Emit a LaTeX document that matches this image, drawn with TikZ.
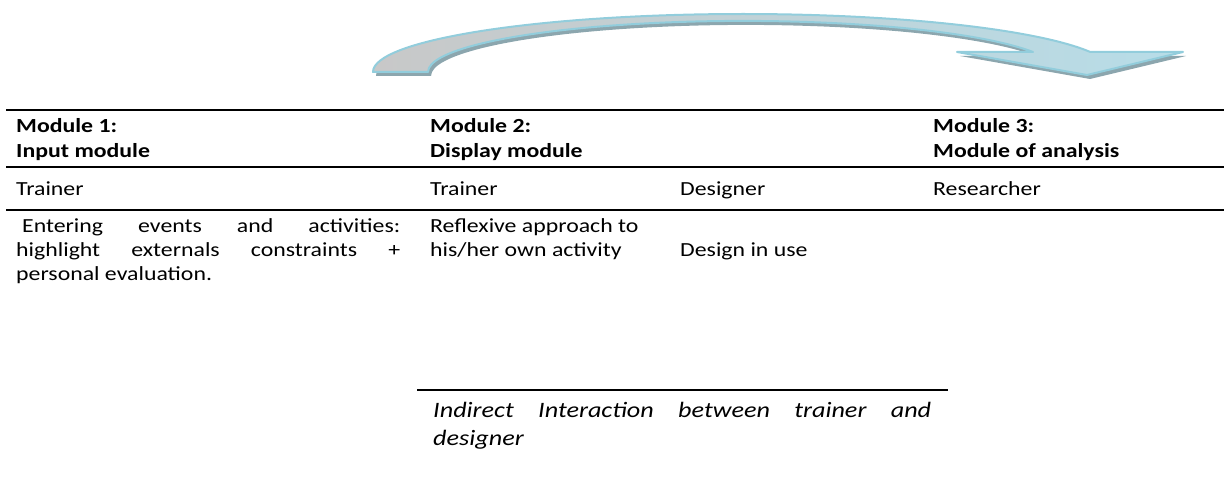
\documentclass[tikz,border=0pt]{standalone}
\usepackage{fontspec}
\setmainfont{Carlito}[FakeStretch=1.19]
\begin{document}
\begin{tikzpicture}[x=1pt,y=1pt,
  cell/.style={inner sep=0pt,anchor=base west,font=\fontsize{20}{24}\selectfont},
  head/.style={cell,font=\fontsize{20}{24}\selectfont\bfseries},
  note/.style={cell,font=\fontsize{22}{27}\selectfont\itshape},
  heavyrule/.style={line width=2pt},
  lightrule/.style={line width=1.3pt},
  ribbon outline/.style={insert path={
    (373,411) arc[start angle=180,end angle=20.2,x radius=370,y radius=58]
    -- (1183,431) -- (1087,408) -- (957,431) -- (1033,431)
    arc[start angle=23,end angle=180,x radius=315,y radius=51] -- cycle}}]
\definecolor{ribbonedge}{HTML}{92CDDC}
\definecolor{ribbonshadow}{HTML}{8CA6AE}
\definecolor{ribbongray}{HTML}{C8C8C8}
\definecolor{ribbonblue}{HTML}{B7DDE8}
\useasboundingbox (0,0) rectangle (1224,483);
% curved flow arrow above the table
\begin{scope}[shift={(3,-4)}]
  \fill[ribbonshadow,ribbon outline];
\end{scope}
\shade[left color=ribbongray,middle color=white,right color=ribbonblue,
  draw=ribbonedge,line width=2pt,line join=round,ribbon outline];
% table rules
\draw[heavyrule] (6,373) -- (1224,373);
\draw[lightrule] (6,316) -- (1224,316);
\draw[heavyrule] (6,273) -- (1224,273);
% header
\node[head] (m1a) at (16,350) {Module 1:};
\node[head] (m1b) at (16,326) {Input module};
\node[head] (m2a) at (430,350) {Module 2:};
\node[head] (m2b) at (430,326) {Display module};
\node[head] (m3a) at (933,350) {Module 3:};
\node[head] (m3b) at (933,326) {Module of analysis};
% roles
\node[cell] (r1) at (16,288) {Trainer};
\node[cell] (r2) at (430,288) {Trainer};
\node[cell] (r3) at (680,288) {Designer};
\node[cell] (r4) at (933,288) {Researcher};
% activities
\node[cell] (a1) at (16,251) {\makebox[384pt][s]{\hspace{6pt}Entering events and activities:}};
\node[cell] (a2) at (16,227) {\makebox[384pt][s]{highlight externals constraints +}};
\node[cell] (a3) at (16,203) {personal evaluation.};
\node[cell] (b1) at (430,251) {Reflexive approach to};
\node[cell] (b2) at (430,227) {his/her own activity};
\node[cell] (c1) at (680,227) {Design in use};
% note below
\draw[lightrule] (417,93) -- (948,93);
\node[note] (n1) at (433,66) {\makebox[498pt][s]{Indirect Interaction between trainer and}};
\node[note] (n2) at (433,38) {designer};
\end{tikzpicture}
\end{document}
